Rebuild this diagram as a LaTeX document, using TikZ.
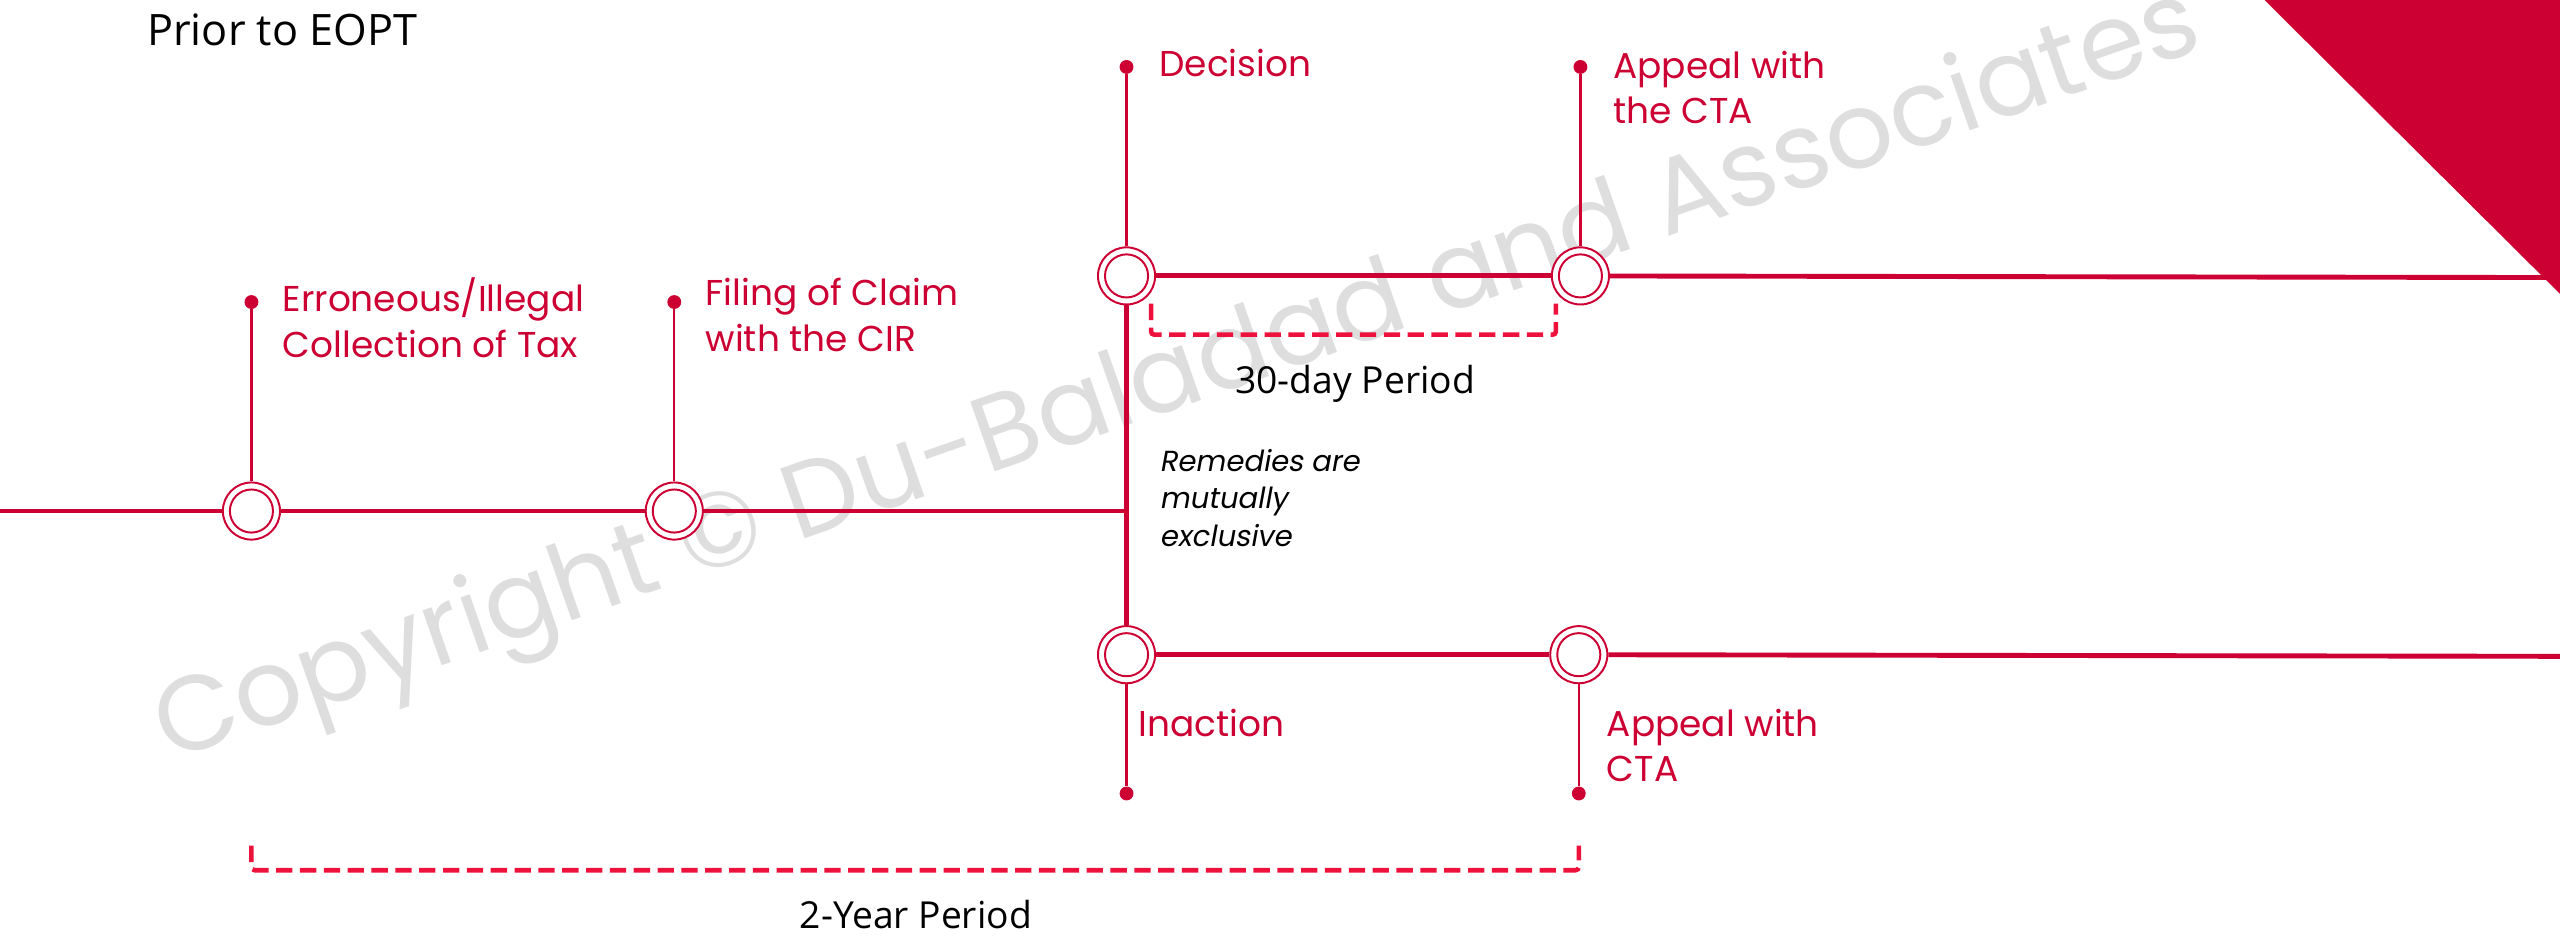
\documentclass[tikz,border=0pt]{standalone}
\usepackage{fontspec}
\setmainfont{Poppins}
\newfontfamily\labelfont{Poppins}
\newfontfamily\slantfont{Poppins}[FakeSlant=0.18]
\newfontfamily\plainfont{Open Sans}
\definecolor{crimson}{RGB}{204,0,51}
\definecolor{dashred}{RGB}{236,18,60}
\definecolor{markgray}{RGB}{222,222,222}

\tikzset{
  trunk/.style={draw=crimson, line width=3pt},
  stem/.style={draw=crimson, line width=1.4pt},
  ring/.style={circle, draw=crimson, line width=1.2pt, fill=white,
    minimum size=35pt, inner sep=0pt,
    path picture={\draw[crimson, line width=1.2pt]
      (path picture bounding box.center) circle (13.2pt);}},
  pin/.style={circle, fill=crimson, minimum size=8.5pt, inner sep=0pt},
  bracket/.style={draw=dashred, line width=2.8pt, dash pattern=on 10pt off 4.6pt,
    rounded corners=2pt},
  redlabel/.style={anchor=north west, inner sep=0pt, align=left, text=crimson,
    font=\labelfont\fontsize{22}{28}\selectfont},
  periodlabel/.style={anchor=base, inner sep=0pt, text=black,
    font=\plainfont\fontsize{22.8}{26}\selectfont},
}

\begin{document}
\begin{tikzpicture}[x=1pt, y=-1pt]
\useasboundingbox (0,0) rectangle (1568,573);

% watermark
\node[text=markgray, rotate=19.3, inner sep=0pt,
      font=\labelfont\fontsize{65}{78}\selectfont] (mark) at (722,233)
  {Copyright © Du-Baladad and Associates};

% corner triangle
\fill[crimson] (1387,0) -- (1568,0) -- (1568,180) -- cycle;

% heading
\node[anchor=base west, inner sep=0pt, font=\plainfont\fontsize{26.5}{30}\selectfont]
  (title) at (90,28) {Prior to EOPT};

% milestones on the main line
\node[ring] (c1) at (154,313) {};
\node[ring] (c2) at (413,313) {};
\coordinate (m0) at (0,313);
\coordinate (mj) at (690,313);

% branch milestones
\node[ring] (dec) at (690,169) {};
\node[ring] (ap1) at (968,169) {};
\node[ring] (ina) at (690,401) {};
\node[ring] (ap2) at (967,401) {};
\coordinate (e1) at (1568,170);
\coordinate (e2) at (1568,402);

% pins
\node[pin] (p1) at (154,185) {};
\node[pin] (p2) at (413,185) {};
\node[pin] (pd) at (690,41) {};
\node[pin] (pa1) at (968,41) {};
\node[pin] (pi) at (690,486) {};
\node[pin] (pa2) at (967,486) {};

% lines
\draw[trunk] (m0) -- (c1);
\draw[trunk] (c1) -- (c2);
\draw[trunk] (c2) -- (mj);
\draw[trunk] (dec) -- (ina);
\draw[trunk] (dec) -- (ap1);
\draw[trunk] (ap1) -- (e1);
\draw[trunk] (ina) -- (ap2);
\draw[trunk] (ap2) -- (e2);

\draw[stem] (p1) -- (c1);
\draw[stem] (p2) -- (c2);
\draw[stem] (pd) -- (dec);
\draw[stem] (pa1) -- (ap1);
\draw[stem] (ina) -- (pi);
\draw[stem] (ap2) -- (pa2);

% period brackets
\coordinate (b1a) at (705,186);
\coordinate (b1b) at (953,186);
\draw[bracket] (b1a) -- ++(0,19) -| (b1b);
\coordinate (b2a) at (154,518);
\coordinate (b2b) at (967,518);
\draw[bracket] (b2a) -- ++(0,15) -| (b2b);

% labels
\node[redlabel] (l1) at (173,170) {Erroneous/Illegal\\Collection of Tax};
\node[redlabel] (l2) at (432,170) {Filing of Claim\\with the CIR};
\node[redlabel] (l3) at (710,30) {Decision};
\node[redlabel] (l4) at (988,31) {Appeal with\\the CTA};
\node[redlabel] (l5) at (697,434) {Inaction};
\node[redlabel] (l6) at (984,434) {Appeal with\\CTA};

\node[anchor=north west, inner sep=0pt, align=left, text=black,
      font=\slantfont\fontsize{17.8}{23}\selectfont] (rem) at (710,275)
  {Remedies are\\mutually\\exclusive};

\node[periodlabel] (t30) at (830,241) {30-day Period};
\node[periodlabel] (t2y) at (561,569) {2-Year Period};
\end{tikzpicture}
\end{document}
